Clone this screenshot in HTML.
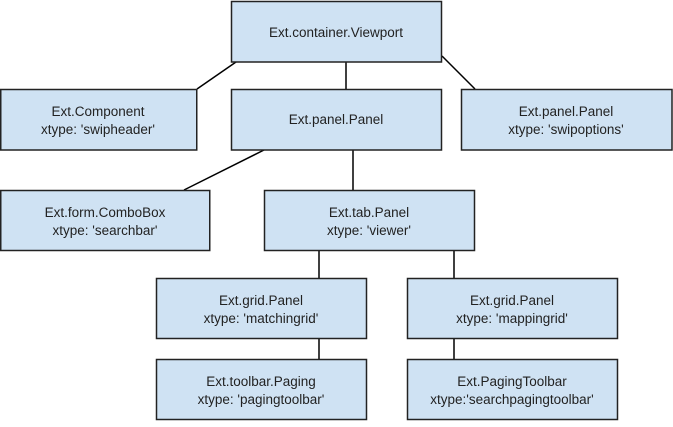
<!DOCTYPE html>
<html><head><style>
body{margin:0;background:#fff;width:673px;height:422px;overflow:hidden}
</style></head><body>
<svg width="673" height="422" xmlns="http://www.w3.org/2000/svg" font-family="Liberation Sans, Arial, sans-serif" font-size="13.5" fill="#000">
<g stroke="#000" stroke-width="1.5">
<line x1="236" y1="62" x2="197" y2="89"/>
<line x1="346" y1="62" x2="346" y2="89"/>
<line x1="442" y1="56" x2="475" y2="89"/>
<line x1="264" y1="150" x2="184" y2="190"/>
<line x1="353" y1="150" x2="353" y2="190"/>
<line x1="319" y1="251" x2="319" y2="278"/>
<line x1="454" y1="251" x2="454" y2="278"/>
<line x1="319" y1="339" x2="319" y2="359"/>
<line x1="454" y1="339" x2="454" y2="359"/>
</g>
<g fill="#cfe2f3" stroke="#222" stroke-width="1.5">
<rect x="231.5" y="1.5" width="210" height="60.5"/>
<rect x="0.75" y="89.5" width="196" height="60.5"/>
<rect x="231.5" y="89.5" width="210" height="60.5"/>
<rect x="461.5" y="89.5" width="210.5" height="60.5"/>
<rect x="0.75" y="190.5" width="209" height="60"/>
<rect x="264.5" y="190.5" width="210" height="60"/>
<rect x="156.5" y="278.5" width="210" height="60"/>
<rect x="407.5" y="278.5" width="210" height="60"/>
<rect x="156.5" y="359.5" width="210" height="60"/>
<rect x="407.5" y="359.5" width="210" height="60"/>
</g>
<g text-anchor="middle" fill="#222">
<text x="336" y="37">Ext.container.Viewport</text>
<text x="98" y="116">Ext.Component</text>
<text x="98" y="134">xtype: 'swipheader'</text>
<text x="336" y="124">Ext.panel.Panel</text>
<text x="566" y="116">Ext.panel.Panel</text>
<text x="566" y="134">xtype: 'swipoptions'</text>
<text x="105" y="217">Ext.form.ComboBox</text>
<text x="105" y="235">xtype: 'searchbar'</text>
<text x="369" y="217">Ext.tab.Panel</text>
<text x="369" y="235">xtype: 'viewer'</text>
<text x="261" y="305">Ext.grid.Panel</text>
<text x="261" y="323">xtype: 'matchingrid'</text>
<text x="512" y="305">Ext.grid.Panel</text>
<text x="512" y="323">xtype: 'mappingrid'</text>
<text x="261" y="386">Ext.toolbar.Paging</text>
<text x="261" y="404">xtype: 'pagingtoolbar'</text>
<text x="512" y="386">Ext.PagingToolbar</text>
<text x="512" y="404">xtype:'searchpagingtoolbar'</text>
</g>
</svg>
</body></html>
